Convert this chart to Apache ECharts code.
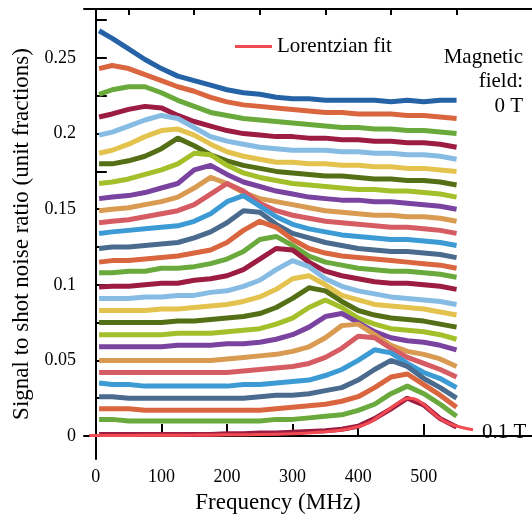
<!DOCTYPE html>
<html>
<head>
<meta charset="utf-8">
<script src="https://cdn.jsdelivr.net/npm/echarts@6/dist/echarts.min.js"></script>
<style>
  html, body { margin: 0; padding: 0; background: #fff; }
  #chart { width: 532px; height: 518px; }
</style>
</head>
<body>
<div id="chart"></div>
<script>
// sample frequencies (MHz) shared by all measured traces
const freq = [5, 25, 50, 75, 100, 125, 150, 175, 200, 225, 250, 275, 300, 325, 350, 375, 400, 425, 450, 475, 500, 525, 550]

// traces from 0 T (top) to 0.1 T (bottom)
const trace1 = [0.268, 0.263, 0.256, 0.249, 0.243, 0.238, 0.235, 0.232, 0.229, 0.227, 0.226, 0.224, 0.223, 0.223, 0.222, 0.222, 0.222, 0.222, 0.221, 0.222, 0.221, 0.222, 0.222]
const trace2 = [0.243, 0.245, 0.243, 0.239, 0.235, 0.231, 0.228, 0.224, 0.221, 0.219, 0.218, 0.217, 0.216, 0.215, 0.214, 0.214, 0.213, 0.213, 0.213, 0.212, 0.212, 0.211, 0.210]
const trace3 = [0.226, 0.229, 0.231, 0.231, 0.227, 0.222, 0.218, 0.214, 0.212, 0.210, 0.209, 0.208, 0.207, 0.206, 0.205, 0.204, 0.204, 0.203, 0.203, 0.202, 0.202, 0.201, 0.200]
const trace4 = [0.211, 0.213, 0.216, 0.218, 0.217, 0.212, 0.208, 0.205, 0.202, 0.200, 0.199, 0.198, 0.198, 0.197, 0.197, 0.196, 0.196, 0.195, 0.195, 0.194, 0.194, 0.193, 0.191]
const trace5 = [0.199, 0.201, 0.205, 0.209, 0.212, 0.210, 0.204, 0.198, 0.195, 0.193, 0.191, 0.190, 0.189, 0.189, 0.189, 0.188, 0.188, 0.187, 0.187, 0.186, 0.186, 0.185, 0.183]
const trace6 = [0.187, 0.189, 0.193, 0.198, 0.202, 0.203, 0.199, 0.193, 0.188, 0.185, 0.183, 0.181, 0.181, 0.180, 0.180, 0.179, 0.179, 0.178, 0.178, 0.177, 0.177, 0.176, 0.175]
const trace7 = [0.180, 0.180, 0.182, 0.185, 0.190, 0.197, 0.192, 0.186, 0.182, 0.179, 0.177, 0.175, 0.174, 0.173, 0.172, 0.172, 0.171, 0.170, 0.170, 0.169, 0.169, 0.168, 0.166]
const trace8 = [0.167, 0.168, 0.170, 0.173, 0.176, 0.180, 0.187, 0.186, 0.179, 0.174, 0.171, 0.169, 0.167, 0.166, 0.165, 0.164, 0.163, 0.163, 0.162, 0.162, 0.161, 0.160, 0.158]
const trace9 = [0.157, 0.158, 0.159, 0.161, 0.164, 0.167, 0.176, 0.179, 0.173, 0.168, 0.165, 0.162, 0.160, 0.158, 0.157, 0.156, 0.156, 0.155, 0.155, 0.154, 0.153, 0.152, 0.150]
const trace10 = [0.149, 0.150, 0.151, 0.153, 0.155, 0.158, 0.164, 0.171, 0.167, 0.161, 0.157, 0.155, 0.153, 0.151, 0.149, 0.148, 0.147, 0.146, 0.146, 0.145, 0.145, 0.144, 0.142]
const trace11 = [0.141, 0.142, 0.143, 0.145, 0.147, 0.149, 0.153, 0.160, 0.167, 0.162, 0.154, 0.149, 0.146, 0.144, 0.142, 0.141, 0.140, 0.139, 0.138, 0.138, 0.137, 0.136, 0.134]
const trace12 = [0.134, 0.135, 0.136, 0.137, 0.138, 0.139, 0.142, 0.147, 0.155, 0.159, 0.152, 0.145, 0.140, 0.137, 0.135, 0.133, 0.132, 0.131, 0.130, 0.130, 0.129, 0.128, 0.126]
const trace13 = [0.124, 0.125, 0.125, 0.126, 0.127, 0.128, 0.131, 0.135, 0.141, 0.149, 0.148, 0.140, 0.134, 0.131, 0.128, 0.126, 0.124, 0.123, 0.122, 0.122, 0.121, 0.120, 0.118]
const trace14 = [0.115, 0.116, 0.116, 0.117, 0.118, 0.119, 0.121, 0.123, 0.128, 0.136, 0.142, 0.138, 0.130, 0.124, 0.121, 0.119, 0.118, 0.117, 0.116, 0.115, 0.114, 0.113, 0.111]
const trace15 = [0.108, 0.108, 0.109, 0.109, 0.111, 0.111, 0.112, 0.114, 0.117, 0.122, 0.130, 0.132, 0.126, 0.119, 0.115, 0.113, 0.111, 0.110, 0.109, 0.109, 0.108, 0.107, 0.105]
const trace16 = [0.0985, 0.099, 0.099, 0.100, 0.101, 0.101, 0.103, 0.104, 0.106, 0.110, 0.117, 0.124, 0.123, 0.115, 0.109, 0.106, 0.104, 0.102, 0.101, 0.101, 0.100, 0.099, 0.097]
const trace17 = [0.091, 0.091, 0.091, 0.092, 0.092, 0.093, 0.093, 0.095, 0.096, 0.099, 0.103, 0.110, 0.116, 0.112, 0.104, 0.099, 0.096, 0.094, 0.092, 0.091, 0.090, 0.089, 0.087]
const trace18 = [0.083, 0.083, 0.083, 0.083, 0.084, 0.084, 0.085, 0.086, 0.087, 0.089, 0.092, 0.097, 0.104, 0.106, 0.100, 0.093, 0.090, 0.087, 0.086, 0.085, 0.084, 0.082, 0.080]
const trace19 = [0.075, 0.075, 0.075, 0.075, 0.075, 0.076, 0.076, 0.077, 0.078, 0.079, 0.081, 0.085, 0.091, 0.098, 0.096, 0.089, 0.083, 0.080, 0.078, 0.077, 0.076, 0.074, 0.072]
const trace20 = [0.067, 0.067, 0.067, 0.067, 0.067, 0.068, 0.068, 0.068, 0.069, 0.070, 0.071, 0.074, 0.078, 0.085, 0.090, 0.085, 0.078, 0.074, 0.071, 0.070, 0.069, 0.067, 0.064]
const trace21 = [0.059, 0.059, 0.059, 0.059, 0.059, 0.060, 0.060, 0.060, 0.061, 0.061, 0.062, 0.064, 0.067, 0.072, 0.079, 0.081, 0.075, 0.069, 0.065, 0.063, 0.062, 0.060, 0.057]
const trace22 = [0.050, 0.050, 0.050, 0.050, 0.050, 0.050, 0.050, 0.050, 0.051, 0.052, 0.053, 0.054, 0.056, 0.059, 0.065, 0.073, 0.074, 0.067, 0.060, 0.056, 0.054, 0.051, 0.046]
const trace23 = [0.042, 0.042, 0.042, 0.042, 0.042, 0.042, 0.042, 0.042, 0.042, 0.043, 0.044, 0.045, 0.046, 0.048, 0.052, 0.058, 0.066, 0.065, 0.058, 0.052, 0.048, 0.044, 0.039]
const trace24 = [0.035, 0.034, 0.034, 0.033, 0.033, 0.033, 0.033, 0.033, 0.033, 0.034, 0.034, 0.035, 0.036, 0.037, 0.040, 0.044, 0.050, 0.057, 0.055, 0.048, 0.042, 0.038, 0.032]
const trace25 = [0.026, 0.026, 0.025, 0.025, 0.025, 0.025, 0.025, 0.025, 0.025, 0.025, 0.026, 0.027, 0.027, 0.028, 0.030, 0.032, 0.037, 0.044, 0.050, 0.046, 0.038, 0.032, 0.025]
const trace26 = [0.018, 0.018, 0.018, 0.017, 0.017, 0.017, 0.017, 0.017, 0.017, 0.017, 0.017, 0.018, 0.019, 0.020, 0.021, 0.023, 0.026, 0.032, 0.039, 0.041, 0.034, 0.027, 0.019]
const trace27 = [0.011, 0.011, 0.010, 0.010, 0.010, 0.010, 0.010, 0.010, 0.010, 0.010, 0.010, 0.011, 0.011, 0.012, 0.013, 0.014, 0.017, 0.021, 0.028, 0.033, 0.028, 0.021, 0.013]
const trace28 = [0.001, 0.001, 0.001, 0.001, 0.001, 0.001, 0.001, 0.001, 0.0015, 0.0015, 0.002, 0.002, 0.0025, 0.003, 0.0035, 0.0045, 0.0065, 0.0115, 0.018, 0.025, 0.0205, 0.0115, 0.006]

const traces = [
  trace1, trace2, trace3, trace4, trace5, trace6, trace7, trace8, trace9, trace10,
  trace11, trace12, trace13, trace14, trace15, trace16, trace17, trace18, trace19, trace20,
  trace21, trace22, trace23, trace24, trace25, trace26, trace27, trace28
]

// Lorentzian fit of the 0.1 T trace
const fitFreq = [-10, 50, 100, 150, 200, 250, 300, 325, 350, 375, 400, 415, 430, 445, 460, 470, 478, 486, 495, 505, 515, 525, 540, 555, 575]
const fitValue = [0.0003, 0.0004, 0.0005, 0.0006, 0.0008, 0.0010, 0.0015, 0.0020, 0.0028, 0.0040, 0.0062, 0.0085, 0.0125, 0.0170, 0.0215, 0.0240, 0.0250, 0.0245, 0.0225, 0.0190, 0.0150, 0.0115, 0.0080, 0.0060, 0.0042]

// axis ticks
const xMajorTicks = [0, 100, 200, 300, 400, 500]
const xMinorTicks = [50, 150, 250, 350, 450, 550]
const yTicks = [0, 0.025, 0.05, 0.075, 0.1, 0.125, 0.15, 0.175, 0.2, 0.225, 0.25, 0.275]
const yLabels = [0, 0.05, 0.1, 0.15, 0.2, 0.25]

const palette = ['#4a6b8e', '#d9663f', '#6aaa3c', '#9c1c42', '#86bbe3', '#e3c24e',
  '#556f16', '#a3bf2a', '#7a43a0', '#d99a52', '#d65c63', '#3c9ad5']
const topColor = '#2563a6'
const fitColor = '#f34b52'

const serif = 'Liberation Serif'

const chart = echarts.init(document.getElementById('chart'))

const traceSeries = traces.map((t, i) => ({
  type: 'line',
  name: 'trace' + (i + 1),
  data: freq.map((f, j) => [f, t[j]]),
  showSymbol: false,
  silent: true,
  lineStyle: { width: 5, color: i === 0 ? topColor : palette[i % 12] },
  z: 2
}))

const option = {
  animation: false,
  grid: { left: 84, right: 0, top: 9, bottom: 59 },
  legend: {
    data: ['Lorentzian fit'],
    left: 230,
    top: 31,
    icon: 'rect',
    itemWidth: 37,
    itemHeight: 3,
    textStyle: { fontFamily: serif, fontSize: 21, color: '#000' }
  },
  xAxis: [
    {
      type: 'value', min: -18, max: 665,
      axisLine: { lineStyle: { color: '#000', width: 2 } },
      axisTick: { inside: true, length: 12, customValues: xMajorTicks, lineStyle: { width: 2, color: '#000' } },
      axisLabel: { customValues: xMajorTicks, margin: 9, fontFamily: serif, fontSize: 18, color: '#000' },
      splitLine: { show: false }
    },
    {
      type: 'value', min: -18, max: 665,
      axisLine: { show: false },
      axisTick: { inside: true, length: 6, customValues: xMinorTicks, lineStyle: { width: 2, color: '#000' } },
      axisLabel: { show: false },
      splitLine: { show: false }
    },
    {
      type: 'value', min: -18, max: 665, position: 'top',
      axisLine: { lineStyle: { color: '#000', width: 2 } },
      axisTick: { show: false },
      axisLabel: { show: false },
      splitLine: { show: false }
    }
  ],
  yAxis: {
    type: 'value', min: -0.0152, max: 0.2824,
    name: 'Signal to shot noise ratio (unit fractions)',
    nameLocation: 'middle',
    nameGap: 50,
    nameTextStyle: { fontFamily: serif, fontSize: 23, color: '#000' },
    axisLine: { lineStyle: { color: '#000', width: 2 } },
    axisTick: { inside: true, length: 11, customValues: yTicks, lineStyle: { width: 2, color: '#000' } },
    axisLabel: {
      customValues: yLabels, margin: 8, fontFamily: serif, fontSize: 18, color: '#000',
      formatter: v => String(Math.round(v * 1000) / 1000)
    },
    splitLine: { show: false }
  },
  graphic: [
    { type: 'text', x: 278, y: 503, style: { text: 'Frequency (MHz)', font: '23px "Liberation Serif"', fill: '#000', textAlign: 'center', textVerticalAlign: 'middle' } },
    { type: 'text', x: 523, y: 57, style: { text: 'Magnetic', font: '21px "Liberation Serif"', fill: '#000', textAlign: 'right', textVerticalAlign: 'middle' } },
    { type: 'text', x: 523, y: 81, style: { text: 'field:', font: '21px "Liberation Serif"', fill: '#000', textAlign: 'right', textVerticalAlign: 'middle' } },
    { type: 'text', x: 523, y: 106, style: { text: '0 T', font: '21px "Liberation Serif"', fill: '#000', textAlign: 'right', textVerticalAlign: 'middle' } },
    { type: 'text', x: 482, y: 432, style: { text: '0.1 T', font: '21px "Liberation Serif"', fill: '#000', textAlign: 'left', textVerticalAlign: 'middle' } }
  ],
  series: [
    ...traceSeries,
    {
      type: 'line',
      name: 'Lorentzian fit',
      data: fitFreq.map((f, j) => [f, fitValue[j]]),
      smooth: true,
      showSymbol: false,
      silent: true,
      lineStyle: { width: 3, color: fitColor },
      itemStyle: { color: fitColor },
      z: 3
    }
  ]
}

chart.setOption(option)
</script>
</body>
</html>
